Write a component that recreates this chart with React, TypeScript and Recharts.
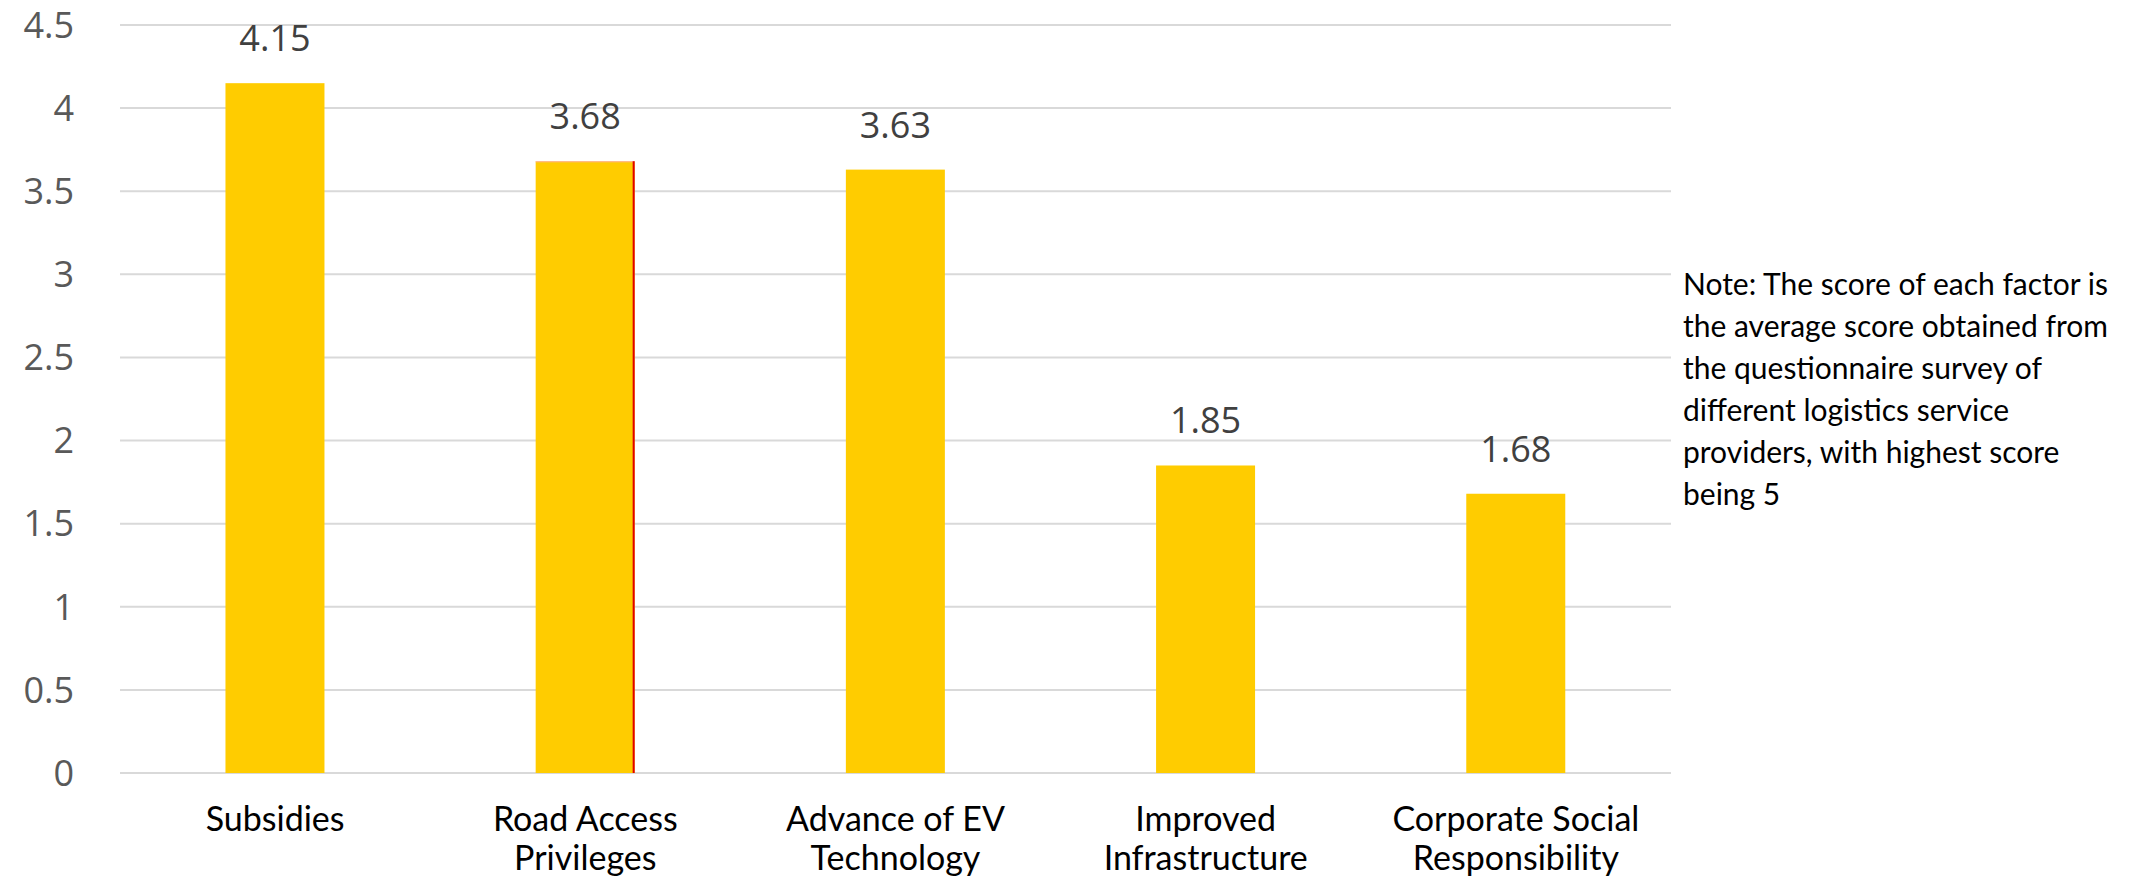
import React from "react";
import { BarChart, Bar, XAxis, YAxis, CartesianGrid, LabelList } from "recharts";

const categories = [
  "Subsidies",
  "Road Access Privileges",
  "Advance of EV Technology",
  "Improved Infrastructure",
  "Corporate Social Responsibility",
];
const categoryLines: string[][] = [
  ["Subsidies"],
  ["Road Access", "Privileges"],
  ["Advance of EV", "Technology"],
  ["Improved", "Infrastructure"],
  ["Corporate Social", "Responsibility"],
];
const scores = [4.15, 3.68, 3.63, 1.85, 1.68];
const yTicks = [0, 0.5, 1, 1.5, 2, 2.5, 3, 3.5, 4, 4.5];
const noteLines = [
  "Note: The score of each factor is",
  "the average score obtained from",
  "the questionnaire survey of",
  "different logistics service",
  "providers, with highest score",
  "being 5",
];

const data = categories.map((c, i) => ({ name: c, score: scores[i] }));

const TEXT_FONT = "Lato, 'Open Sans', sans-serif";
const NUM_FONT = "'Open Sans', sans-serif";

const XTick = (props: any) => {
  const { x, y, index } = props;
  const lines = categoryLines[index] || [];
  return (
    <g>
      {lines.map((l, i) => (
        <text
          key={i}
          x={x}
          y={y + 58 + i * 39}
          textAnchor="middle"
          fill="#000000"
          fontFamily={TEXT_FONT}
          fontSize={34}
        >
          {l}
        </text>
      ))}
    </g>
  );
};

const BarShape = (props: any) => {
  const { x, y, width, height, index } = props;
  return (
    <g>
      <rect x={x} y={y} width={width} height={height} fill="#FFCC00" />
      {index === 1 && (
        <>
          <line x1={x} y1={y + 0.5} x2={x + width} y2={y + 0.5} stroke="#FFB0A0" strokeWidth={1} />
          <line x1={x + width - 1} y1={y} x2={x + width - 1} y2={y + height} stroke="#E00000" strokeWidth={2} />
        </>
      )}
    </g>
  );
};

export default function App() {
  return (
    <div style={{ position: "absolute", left: 0, top: 0, width: 2131, height: 878, background: "#fff" }}>
      <BarChart
        width={2131}
        height={878}
        data={data}
        margin={{ top: 25, right: 460, bottom: 0, left: 0 }}
        barCategoryGap="34%"
      >
        <CartesianGrid horizontal vertical={false} stroke="#D9D9D9" strokeWidth={2} />
        <XAxis
          dataKey="name"
          axisLine={false}
          tickLine={false}
          tickSize={0}
          tickMargin={0}
          height={105}
          interval={0}
          tick={<XTick />}
        />
        <YAxis
          domain={[0, 4.5]}
          ticks={yTicks}
          axisLine={false}
          tickLine={false}
          tickSize={0}
          tickMargin={46}
          width={120}
          tick={{ fill: "#595959", fontSize: 36, fontFamily: NUM_FONT }}
          interval={0}
        />
        <Bar dataKey="score" fill="#FFCC00" isAnimationActive={false} shape={<BarShape />}>
          <LabelList
            dataKey="score"
            position="top"
            offset={32}
            fill="#404040"
            fontSize={36}
            fontFamily={NUM_FONT}
          />
        </Bar>
      </BarChart>
      <div
        style={{
          position: "absolute",
          left: 1683,
          top: 262,
          width: 448,
          fontFamily: TEXT_FONT,
          fontSize: 30,
          lineHeight: "42px",
          color: "#000",
          whiteSpace: "nowrap",
        }}
      >
        {noteLines.map((l, i) => (
          <div key={i}>{l}</div>
        ))}
      </div>
    </div>
  );
}
